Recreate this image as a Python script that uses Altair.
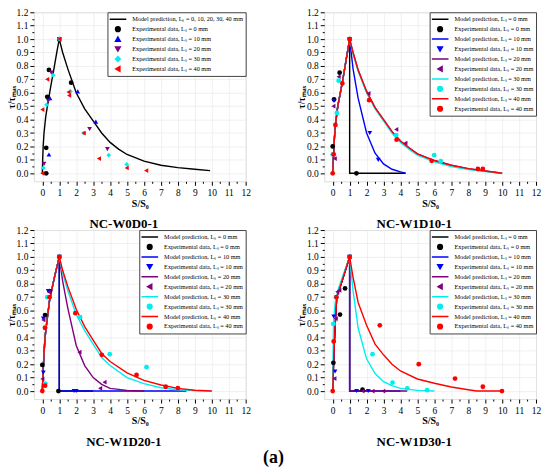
import altair as alt
import pandas as pd

FONT = "Liberation Serif"
BLACK, BLUE, PURPLE, CYAN, RED = "#000000", "#0000ff", "#800080", "#00eeee", "#ff0000"
LINE_PATH = "M-3.6,0H3.6"
W, H = 213, 170

# ---------------- Panel 1 : NC-W0D0-1 ----------------
p1_title = "NC-W0D0-1"
p1_entries = ["Model prediction, Lₛ = 0, 10, 20, 30, 40 mm",
              "Experimental data, Lₛ = 0 mm",
              "Experimental data, Lₛ = 10 mm",
              "Experimental data, Lₛ = 20 mm",
              "Experimental data, Lₛ = 30 mm",
              "Experimental data, Lₛ = 40 mm"]
p1_colors = [BLACK, BLACK, BLUE, PURPLE, CYAN, RED]
p1_shapes = [LINE_PATH, "circle", "triangle-up", "triangle-down", "diamond", "triangle-left"]
p1_lines = {
    0: ([0, 0.02, 0.05, 0.1, 0.2, 0.3, 0.5, 0.7, 0.85, 1.0, 1.2, 1.5, 2, 2.5, 3, 3.5, 4, 4.5, 5, 6, 7, 8, 9, 9.9],
        [0, 0.1, 0.2, 0.3, 0.42, 0.5, 0.65, 0.79, 0.9, 1.0, 0.9, 0.78, 0.6, 0.48, 0.39, 0.3, 0.23, 0.18, 0.14, 0.09, 0.06, 0.042, 0.03, 0.02]),
}
p1_points = {
    1: ([0.23, 0.23, 0.29, 0.39, 1.0, 1.7], [0.0, 0.19, 0.57, 0.77, 1.0, 0.675]),
    2: ([0.39, 0.45, 1.0, 2.09, 3.16], [0.14, 0.56, 1.0, 0.61, 0.385]),
    3: ([0.1, 0.35, 0.53, 1.0, 2.79, 3.84], [0.07, 0.54, 0.75, 1.0, 0.33, 0.18]),
    4: ([0.06, 0.25, 0.64, 1.0, 1.66, 2.44, 3.92, 4.98], [0.04, 0.51, 0.73, 1.0, 0.61, 0.30, 0.135, 0.066]),
    5: ([0.0, 0.0, 0.29, 1.0, 1.54, 1.58, 2.44, 3.34, 4.98, 6.13], [0.0, 0.475, 0.70, 1.0, 0.605, 0.58, 0.30, 0.11, 0.04, 0.02]),
}

# entries shared by panels 2-4
multi_entries = []
for L in ["0", "10", "20", "30", "40"]:
    multi_entries.append(f"Model prediction, Lₛ = {L} mm")
    multi_entries.append(f"Experimental data, Lₛ = {L} mm")
multi_colors = [BLACK, BLACK, BLUE, BLUE, PURPLE, PURPLE, CYAN, CYAN, RED, RED]
multi_shapes = [LINE_PATH, "circle", LINE_PATH, "triangle-down", LINE_PATH, "triangle-left",
                LINE_PATH, "circle", LINE_PATH, "circle"]

# ---------------- Panel 2 : NC-W1D10-1 ----------------
p2_title = "NC-W1D10-1"
asc2_x = [0, 0.05, 0.1, 0.17, 0.3, 0.45, 0.6, 0.8, 1.0]
asc2_y = [0, 0.14, 0.26, 0.37, 0.5, 0.6, 0.7, 0.85, 1.0]
p2_lines = {
    0: (asc2_x + [1.0, 4.3], asc2_y + [0.0, 0.0]),
    2: (asc2_x + [1.2, 1.5, 2, 2.5, 3, 3.5, 4, 4.3], asc2_y + [0.78, 0.56, 0.3, 0.15, 0.07, 0.03, 0.01, 0.0]),
    4: (asc2_x + [1.2, 1.5, 2, 2.5, 3, 3.5, 4, 4.5, 5, 6, 7, 8, 9, 10],
        asc2_y + [0.9, 0.77, 0.61, 0.49, 0.4, 0.31, 0.24, 0.19, 0.145, 0.095, 0.06, 0.035, 0.017, 0.0]),
    6: (asc2_x + [1.2, 1.5, 2, 2.5, 3, 3.5, 4, 4.5, 5, 6, 7, 8, 9, 10],
        asc2_y + [0.89, 0.76, 0.6, 0.48, 0.39, 0.3, 0.23, 0.18, 0.135, 0.085, 0.05, 0.028, 0.012, 0.0]),
    8: (asc2_x + [1.2, 1.5, 2, 2.5, 3, 3.5, 4, 4.5, 5, 6, 7, 8, 9, 10],
        asc2_y + [0.9, 0.77, 0.61, 0.49, 0.4, 0.31, 0.24, 0.19, 0.145, 0.095, 0.06, 0.035, 0.017, 0.0]),
}
p2_points = {
    1: ([0.0, 0.08, 0.41, 1.0, 1.4], [0.20, 0.55, 0.75, 1.0, 0.0]),
    3: ([0.08, 2.19, 2.69, 1.0], [0.54, 0.30, 0.10, 1.0]),
    5: ([0.04, 0.12, 0.35, 1.0, 2.11, 3.75, 4.29], [0.50, 0.11, 0.72, 1.0, 0.595, 0.327, 0.225]),
    7: ([0.0, 0.25, 0.35, 1.0, 3.75, 5.99, 6.38], [0.14, 0.45, 0.69, 1.0, 0.285, 0.135, 0.09]),
    9: ([0.0, 0.06, 0.16, 0.57, 1.0, 2.15, 3.77, 5.84, 8.57, 8.86], [0.0, 0.14, 0.36, 0.67, 1.0, 0.545, 0.25, 0.093, 0.032, 0.032]),
}

# ---------------- Panel 3 : NC-W1D20-1 ----------------
p3_title = "NC-W1D20-1"
asc3_x = [0, 0.05, 0.1, 0.16, 0.25, 0.43, 0.7, 1.0]
asc3_y = [0, 0.15, 0.28, 0.4, 0.5, 0.68, 0.84, 1.0]
p3_lines = {
    0: (asc3_x + [1.0, 3.0], asc3_y + [0.0, 0.0]),
    2: (asc3_x + [1.0, 8.5], asc3_y + [0.0, 0.0]),
    4: (asc3_x + [1.2, 1.5, 2, 2.5, 3, 3.5, 4, 5, 6], asc3_y + [0.82, 0.62, 0.34, 0.19, 0.1, 0.05, 0.02, 0.005, 0.0]),
    6: (asc3_x + [1.2, 1.5, 2, 2.5, 3, 3.5, 4, 5, 6, 7, 8, 9, 10],
        asc3_y + [0.88, 0.75, 0.57, 0.45, 0.35, 0.25, 0.19, 0.1, 0.055, 0.025, 0.01, 0.003, 0.0]),
    8: (asc3_x + [1.2, 1.5, 2, 2.5, 3, 3.5, 4, 5, 6, 7, 8, 9, 10],
        asc3_y + [0.9, 0.78, 0.61, 0.48, 0.38, 0.28, 0.22, 0.135, 0.08, 0.045, 0.02, 0.006, 0.0]),
}
p3_points = {
    1: ([0.0, 0.16, 0.43, 0.95, 1.0], [0.195, 0.566, 0.745, 0.0, 1.0]),
    3: ([0.06, 0.06, 0.35, 1.87, 2.0, 1.0], [0.137, 0.54, 0.745, 0.0, 0.0, 1.0]),
    5: ([0.0, 0.06, 0.39, 2.19, 3.41, 3.67, 1.0], [0.09, 0.53, 0.74, 0.29, 0.02, 0.066, 1.0]),
    7: ([0.18, 0.16, 0.29, 2.23, 3.98, 6.15, 1.0], [0.056, 0.475, 0.70, 0.55, 0.275, 0.178, 1.0]),
    9: ([0.0, 0.16, 0.16, 0.43, 1.0, 1.95, 3.51, 5.56, 7.28, 8.0], [0.0, 0.04, 0.47, 0.70, 1.0, 0.58, 0.27, 0.12, 0.032, 0.022]),
}

# ---------------- Panel 4 : NC-W1D30-1 ----------------
p4_title = "NC-W1D30-1"
asc4_x = [0, 0.05, 0.1, 0.17, 0.24, 0.5, 0.75, 1.0]
asc4_y = [0, 0.2, 0.37, 0.55, 0.7, 0.8, 0.9, 1.0]
asc4c_x = [0, 0.02, 0.05, 0.15, 0.3, 0.6, 1.0]
asc4c_y = [0, 0.25, 0.5, 0.66, 0.75, 0.86, 1.0]
p4_lines = {
    0: (asc4_x + [1.0, 2.0], asc4_y + [0.0, 0.0]),
    2: (asc4_x + [1.0, 4.0], asc4_y + [0.0, 0.0]),
    4: (asc4_x + [1.0, 4.4], asc4_y + [0.0, 0.0]),
    6: (asc4c_x + [1.2, 1.5, 2, 2.5, 3, 3.5, 4, 5, 6], asc4c_y + [0.75, 0.47, 0.24, 0.13, 0.07, 0.04, 0.02, 0.005, 0.0]),
    8: (asc4_x + [1.2, 1.5, 2, 2.5, 3, 3.5, 4, 5, 6, 7, 8, 8.5, 10],
        asc4_y + [0.85, 0.66, 0.49, 0.35, 0.27, 0.2, 0.15, 0.09, 0.058, 0.03, 0.01, 0.0, 0.0]),
}
p4_points = {
    1: ([0.04, 0.43, 0.73, 1.76, 1.0], [0.21, 0.57, 0.765, 0.01, 1.0]),
    3: ([0.06, 0.14, 1.41, 2.1, 1.0], [0.556, 0.146, 0.0, 0.0, 1.0]),
    5: ([0.1, 0.18, 0.27, 0.39, 1.76, 2.35, 2.98, 1.0], [0.093, 0.54, 0.74, 0.75, 0.0, 0.0, 0.0, 1.0]),
    7: ([0.04, 0.2, 2.35, 3.53, 4.4, 5.57, 1.0], [0.50, 0.70, 0.275, 0.063, 0.02, 0.007, 1.0]),
    9: ([0.0, 0.06, 0.22, 1.0, 2.78, 5.08, 7.22, 8.86, 9.99], [0.0, 0.37, 0.70, 1.0, 0.49, 0.2, 0.093, 0.032, 0.0]),
}

x_ticks = [i * 0.5 for i in range(0, 25)]
y_ticks = [round(i * 0.05, 2) for i in range(0, 25)]

X_MAJOR = "abs(datum.value - round(datum.value)) < 0.001"
Y_MAJOR = "abs(datum.value * 10 - round(datum.value * 10)) < 0.001"


def make_panel(title, entries, colors, shapes, lines, points):
    lrows = []
    for k, (xs, ys) in lines.items():
        for i, (x, y) in enumerate(zip(xs, ys)):
            lrows.append({"entry": entries[k], "x": x, "y": y, "o": i})
    prows = []
    for k, (xs, ys) in points.items():
        for x, y in zip(xs, ys):
            prows.append({"entry": entries[k], "x": x, "y": y})

    legend = alt.Legend(
        title=None, orient="top-right", offset=0, padding=2,
        labelFont=FONT, labelFontSize=6.3, labelColor="black", labelLimit=0,
        symbolSize=22, symbolOffset=5, labelOffset=11, rowPadding=0, clipHeight=10,
        symbolStrokeWidth=1.5, symbolOpacity=1,
        strokeColor="#444444", fillColor="white",
    )
    color_scale = alt.Scale(domain=entries, range=colors)
    shape_scale = alt.Scale(domain=entries, range=shapes)

    xaxis = alt.Axis(
        values=x_ticks, labelExpr=f"{X_MAJOR} ? format(datum.value, 'd') : ''",
        tickSize={"condition": {"test": X_MAJOR, "value": 4}, "value": 2},
        tickColor="black", labelPadding=2.5, labelFont=FONT, labelFontSize=9.5,
        labelColor="black", labelOverlap=False, labelFlush=False, domain=False,
        titleFont=FONT, titleFontSize=10, titleFontWeight="bold", titleColor="black", titlePadding=1,
        grid=True, gridColor="#e6e6e6", gridWidth=0.6,
        gridOpacity={"condition": {"test": X_MAJOR, "value": 1}, "value": 0},
    )
    yaxis = alt.Axis(
        values=y_ticks, labelExpr=f"{Y_MAJOR} ? format(datum.value, '.1f') : ''",
        tickSize={"condition": {"test": Y_MAJOR, "value": 4}, "value": 2},
        tickColor="black", labelPadding=2, labelFont=FONT, labelFontSize=9.5,
        labelColor="black", labelOverlap=False, labelFlush=False, domain=False,
        titleFont=FONT, titleFontSize=9.5, titleFontWeight="bold", titleColor="black", titlePadding=0,
        grid=True, gridColor="#e6e6e6", gridWidth=0.6,
        gridOpacity={"condition": {"test": Y_MAJOR, "value": 1}, "value": 0},
    )
    xenc = alt.X("x:Q", scale=alt.Scale(domain=[-0.5, 12], nice=False, zero=False), axis=xaxis, title="S/S₀")
    yenc = alt.Y("y:Q", scale=alt.Scale(domain=[-0.06, 1.2], nice=False, zero=False), axis=yaxis, title="τ/τₘₐₓ")

    line = alt.Chart(pd.DataFrame(lrows)).mark_line(strokeWidth=1.4).encode(
        x=xenc, y=yenc,
        color=alt.Color("entry:N", scale=color_scale, legend=legend),
        detail="entry:N",
        order="o:Q",
    )
    pts = alt.Chart(pd.DataFrame(prows)).mark_point(filled=True, size=23, opacity=1, strokeWidth=0).encode(
        x=xenc, y=yenc,
        color=alt.Color("entry:N", scale=color_scale, legend=legend),
        shape=alt.Shape("entry:N", scale=shape_scale, legend=legend),
    )
    return alt.layer(line, pts).properties(
        width=W, height=H,
        title=alt.TitleParams(title, orient="bottom", offset=10, dx=-16,
                              font=FONT, fontSize=13, fontWeight="bold", color="black", anchor="middle"),
    )


p1 = make_panel(p1_title, p1_entries, p1_colors, p1_shapes, p1_lines, p1_points)
p2 = make_panel(p2_title, multi_entries, multi_colors, multi_shapes, p2_lines, p2_points)
p3 = make_panel(p3_title, multi_entries, multi_colors, multi_shapes, p3_lines, p3_points)
p4 = make_panel(p4_title, multi_entries, multi_colors, multi_shapes, p4_lines, p4_points)

chart = alt.concat(
    p1, p2, p3, p4, columns=2, spacing={"row": 49, "column": 79}, bounds="flush",
    title=alt.TitleParams("(a)", orient="bottom", anchor="middle", offset=0,
                          font=FONT, fontSize=18, fontWeight="bold", color="black"),
    padding={"top": -3, "left": -3, "right": 0, "bottom": 0},
).resolve_scale(
    color="independent", shape="independent", x="independent", y="independent"
).resolve_legend(
    color="independent", shape="independent"
).configure_view(
    stroke="black", strokeWidth=1
).configure(font=FONT, background="white")

chart.save("out.html", embed_options={"renderer": "svg", "actions": False})
